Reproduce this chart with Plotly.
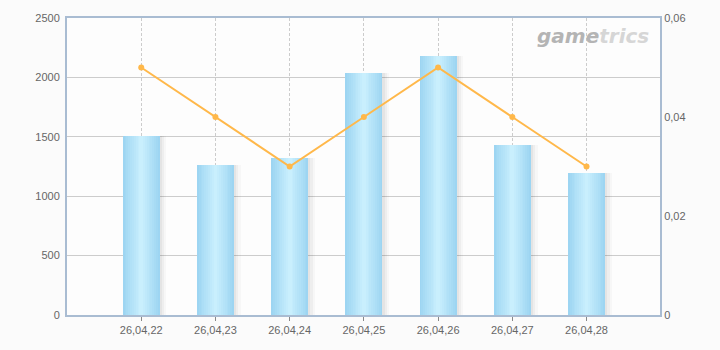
import plotly.graph_objects as go

dates = ["26,04,22", "26,04,23", "26,04,24", "26,04,25", "26,04,26", "26,04,27", "26,04,28"]
bar_values = [1505, 1263, 1322, 2037, 2180, 1431, 1195]
line_values = [0.05, 0.04, 0.03, 0.04, 0.05, 0.04, 0.03]
left_ticks = [0, 500, 1000, 1500, 2000, 2500]
right_ticks = [0, 0.02, 0.04, 0.06]

fig = go.Figure()

# soft shadow to the right of each bar
for off, alpha in [(-0.16, 0.025), (-0.19, 0.035), (-0.22, 0.04)]:
    fig.add_trace(go.Bar(x=dates, y=bar_values, width=0.5, offset=off,
                         marker=dict(color=f"rgba(0,0,0,{alpha})", line=dict(width=0)),
                         hoverinfo="skip", showlegend=False))

# bar body with a simulated horizontal gradient (lighter in the centre)
start = (0x9d, 0xd5, 0xf2)
end = (0xc9, 0xef, 0xfd)
n = 10
for i in range(n):
    w = 0.5 * (n - i) / n
    t = i / (n - 1)
    c = "rgb({},{},{})".format(*[round(s + (e - s) * t) for s, e in zip(start, end)])
    fig.add_trace(go.Bar(x=dates, y=bar_values, width=w, offset=-w / 2,
                         marker=dict(color=c, line=dict(width=0)),
                         hoverinfo="skip", showlegend=False))

fig.add_trace(go.Scatter(x=dates, y=line_values, yaxis="y2", mode="lines+markers",
                         line=dict(color="#ffb84a", width=2),
                         marker=dict(color="#ffb84a", size=6),
                         showlegend=False))

axis_color = "#a9bcd2"
tick_font = dict(family="Liberation Sans, Arial, sans-serif", size=11, color="#666666")

fig.update_layout(
    width=720, height=350,
    margin=dict(l=67, r=60, t=18, b=35),
    paper_bgcolor="#fbfbfb",
    plot_bgcolor="#fdfdfd",
    barmode="overlay",
    bargap=0,
    separators=",.",
    showlegend=False,
    xaxis=dict(type="category", categoryorder="array", categoryarray=dates,
               range=[-1, 6.99], showgrid=True, gridcolor="#cccccc", griddash="3px,2px",
               gridwidth=1, showline=True, linecolor=axis_color, linewidth=2, mirror=True,
               ticks="outside", ticklen=4, tickcolor="#888888", tickfont=tick_font,
               zeroline=False, fixedrange=True),
    yaxis=dict(range=[0, 2500], tickvals=left_ticks, showgrid=True, gridcolor="#cccccc",
               gridwidth=1, showline=True, linecolor=axis_color, linewidth=2,
               ticks="", tickfont=tick_font, zeroline=False, ticklabelstandoff=3),
    yaxis2=dict(range=[0, 0.06], tickvals=right_ticks, overlaying="y", side="right",
                showgrid=False, showline=True, linecolor=axis_color, linewidth=2,
                ticks="", tickfont=tick_font, zeroline=False),
    annotations=[dict(
        text="<b><i><span style='color:#b4b4b4'>game</span><span style='color:#d6d6d6'>trics</span></i></b>",
        xref="paper", yref="paper", x=0.985, y=0.985, xanchor="right", yanchor="top",
        showarrow=False, font=dict(family="DejaVu Sans, sans-serif", size=20))],
)

fig.write_html("out.html")
